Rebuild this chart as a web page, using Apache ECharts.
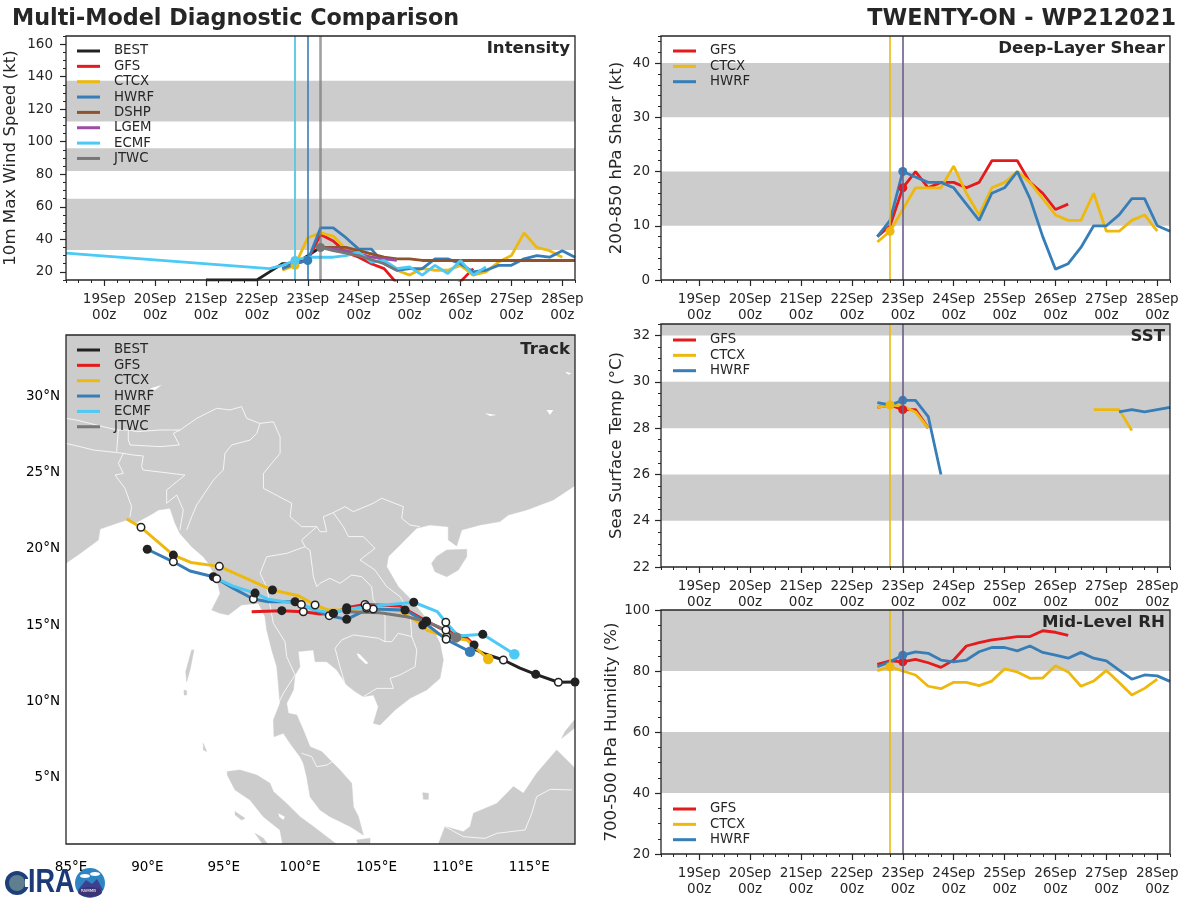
<!DOCTYPE html>
<html>
<head>
<meta charset="utf-8">
<title>Multi-Model Diagnostic Comparison</title>
<script src="https://cdn.jsdelivr.net/npm/echarts@6/dist/echarts.min.js"></script>
<style>
  html, body { margin: 0; padding: 0; background: #fff; }
  #main { width: 1200px; height: 900px; }
</style>
</head>
<body>
<div id="main"></div>
<script>
// tick labels
var dayTicks = [19, 20, 21, 22, 23, 24, 25, 26, 27, 28];
var intensityTicks = [20, 40, 60, 80, 100, 120, 140, 160];
var shearTicks = [0, 10, 20, 30, 40];
var sstTicks = [22, 24, 26, 28, 30, 32];
var rhTicks = [20, 40, 60, 80, 100];
var lonTicks = [85, 90, 95, 100, 105, 110, 115];
var latTicks = [5, 10, 15, 20, 25, 30];

// shaded bands
var intensityBands = [[33.5, 65], [82, 96], [112.5, 137.5]];
var shearBands = [[10, 20], [30, 40]];
var sstBands = [[24, 26], [28, 30], [32, 32.5]];
var rhBands = [[40, 60], [80, 100]];

// intensity (kt), 6 hourly from the start day given beside each
var bestIntensity = [15, 15, 15, 15, 15, 20, 25, 25, 30, 35];            // 21.0
var gfsIntensity = [22, 25, 27, 43, 39, 32, 29, 25, 22, 13, 10, 8, 8, 9, 14, 22]; // 22.5
var ctcxIntensity = [21, 24, 41, 44, 42, 34, 33, 31, 27, 21, 18, 22, 21, 21, 24, 18, 20, 26, 30, 44, 35, 33, 29]; // 22.5
var hwrfIntensity = [22, 25, 27, 47, 47, 41, 34, 34, 25, 21, 22, 22, 28, 28, 25, 20, 21, 24, 24, 28, 30, 29, 33, 29]; // 22.5
var dshpIntensity = [35, 35, 35, 33, 31, 29, 28, 28, 27, 27, 27, 27, 27, 27, 27, 27, 27, 27, 27, 27, 27]; // 23.25
var lgemIntensity = [35, 34, 33, 31, 29, 28, 27];                         // 23.25
var ecmfIntensityTimes = [18.25, 22.25, 22.5, 22.75, 23, 23.25, 23.5, 23.75, 24, 24.25, 24.5, 24.75, 25, 25.25, 25.5, 25.75, 26, 26.25, 26.5];
var ecmfIntensity = [31.5, 22, 24, 27, 29, 29, 29, 30, 32, 26, 27, 22, 23, 18, 24, 19, 27, 18, 23];
var jtwcIntensityTimes = [23.25, 23.5, 24, 24.5, 24.75];
var jtwcIntensity = [35, 33, 30, 25, 21];

// deep-layer shear (kt), from 22.5
var gfsShear = [8, 10, 17, 20, 17, 18, 18, 17, 18, 22, 22, 22, 18, 16, 13, 14];
var ctcxShear = [7, 9, 13, 17, 17, 17, 21, 16, 12, 17, 18, 20, 18, 15, 12, 11, 11, 16, 9, 9, 11, 12, 9];
var hwrfShear = [8, 11, 20, 19, 18, 18, 17, 14, 11, 16, 17, 20, 15, 8, 2, 3, 6, 10, 10, 12, 15, 15, 10, 9];

// sea surface temperature (C), from 22.5, null where the model has no value
var gfsSst = [28.9, 29, 28.8, 28.8, 28];
var ctcxSst = [28.9, 29, 28.95, 28.7, 28, null, null, null, null, null, null, null, null, null, null, null, null, 28.8, 28.8, 28.8, 27.9];
var hwrfSst = [29.1, 29, 29.2, 29.2, 28.5, 26, null, null, null, null, null, null, null, null, null, null, null, null, null, 28.7, 28.8, 28.7, 28.8, 28.9];

// mid-level humidity (%), from 22.5
var gfsRh = [82.2, 83.3, 83, 83.8, 82.7, 81.2, 83.6, 88.2, 89.3, 90.2, 90.7, 91.3, 91.3, 93.2, 92.7, 91.7];
var ctcxRh = [80.1, 81.4, 80, 78.7, 75, 74.2, 76.3, 76.3, 75.2, 76.7, 80.7, 79.7, 77.6, 77.7, 81.7, 79.7, 75, 76.7, 80.2, 76.2, 72.1, 74.3, 77.3];
var hwrfRh = [81.4, 83, 85.2, 86.3, 85.8, 83.6, 83, 83.6, 86.3, 87.7, 87.7, 86.6, 88.2, 86.1, 85.2, 84.2, 86.1, 84.2, 83.3, 80.3, 77.3, 78.7, 78.4, 76.6];

// tracks, [lon, lat]; the Day and Half lists index the points carrying a 24 h / 12 h dot
var bestTrack = [[119, 11.28], [118, 11.28], [116.91, 11.26], [115.43, 11.78], [114.4, 12.19], [113.31, 12.72], [112.11, 13.11], [111.13, 13.57]];
var bestDay = [1, 3], bestHalf = [2, 5];
var gfsTrack = [[96.83, 15.88], [98.8, 15.95], [100.21, 15.88], [101.3, 15.73], [102.17, 15.77], [103.05, 16.14], [104.25, 16.36], [106.54, 16.25], [108.25, 15.27], [109.16, 14.81], [110.93, 14.16], [111.39, 13.7]];
var gfsDay = [1, 4, 5, 8, 11], gfsHalf = [2, 6];
var ctcxTrack = [[88.64, 21.95], [89.58, 21.41], [91.7, 19.59], [92.84, 19.11], [94.71, 18.85], [98.19, 17.3], [99.88, 16.93], [100.98, 16.32], [101.85, 15.99], [103.05, 15.99], [104.36, 16.1], [106.54, 15.95], [108.03, 15.01], [108.29, 14.68], [109.6, 14.24], [110.91, 14.03], [112.32, 12.78]];
var ctcxDay = [2, 5, 9, 12], ctcxHalf = [1, 4, 7, 10, 14];
var hwrfTrack = [[89.99, 19.97], [91.7, 19.15], [92.79, 18.55], [94.32, 18.17], [95.63, 17.41], [96.94, 16.71], [97.92, 16.53], [99.67, 16.53], [100.98, 15.99], [101.91, 15.62], [103.05, 15.38], [103.92, 15.81], [104.79, 16.06], [106.87, 15.99], [107.64, 15.55], [109.56, 14.07], [111.13, 13.26]];
var hwrfDay = [0, 3, 7, 10, 13], hwrfHalf = [1, 5, 9, 12, 15];
var ecmfTrack = [[94.54, 18.04], [95.61, 17.56], [97.05, 17.1], [97.92, 16.69], [100.08, 16.36], [100.98, 15.99], [102.17, 15.77], [103.05, 16.04], [104.36, 16.21], [107.44, 16.5], [108.99, 15.88], [109.54, 15.19], [110.36, 14.29], [111.96, 14.4], [114.03, 13.09]];
var ecmfDay = [2, 6, 9, 13], ecmfHalf = [0, 4, 8, 11];
var jtwcTrack = [[103.05, 15.88], [105.23, 15.81], [106.98, 15.55], [108.29, 15.23], [109.55, 14.68], [110.21, 14.2]];
var jtwcDay = [3], jtwcHalf = [4];

// land outlines, [lon, lat]
var mainland = [[84, 18.5], [84.28, 18.76], [84.67, 19.05], [85.59, 19.7], [86.79, 20.57], [86.9, 21.29], [87.99, 21.67], [88.64, 21.88], [89.3, 21.73], [90.39, 22.32], [90.72, 22.54], [91.48, 22.65], [91.81, 21.67], [92.13, 21.01], [92.9, 20.14], [93.66, 19.48], [93.99, 19.05], [94.54, 18.06], [94.76, 17.08], [94.21, 16], [94.75, 15.78], [95.3, 15.67], [96.17, 16.32], [97.27, 16.43], [97.7, 15.56], [97.81, 14.69], [98.14, 13.38], [98.47, 12.28], [98.57, 11.19], [98.68, 9.88], [98.25, 8.79], [98.29, 7.7], [98.9, 7.92], [99.34, 7.26], [99.99, 6.39], [100.21, 5.95], [100.43, 5.08], [100.65, 3.77], [101.3, 2.9], [101.96, 2.46], [103.27, 1.81], [104.14, 1.26], [103.82, 2.46], [103.49, 3.11], [103.38, 4.64], [102.61, 5.52], [101.96, 6.17], [101.41, 6.72], [100.65, 7.04], [100.21, 8.14], [99.78, 9.12], [99.23, 9.23], [99.12, 9.88], [99.56, 10.76], [99.67, 11.74], [99.99, 12.28], [99.88, 13.27], [100.87, 13.38], [100.98, 12.61], [101.74, 12.61], [102.4, 12.07], [103.05, 11.08], [103.6, 10.65], [104.14, 10.32], [104.8, 10.43], [105.12, 9.66], [104.8, 8.57], [105.23, 8.46], [106.22, 9.45], [107.2, 10.21], [108.29, 10.76], [109.16, 11.52], [109.38, 12.72], [109.16, 13.81], [108.51, 15.12], [107.19, 16.76], [106.43, 17.52], [105.67, 18.83], [105.78, 19.49], [106.54, 20.25], [107.63, 21.34], [108.5, 21.56], [109.7, 21.45], [109.7, 20.58], [110.25, 20.18], [110.58, 21.23], [111.78, 21.56], [113.09, 21.78], [113.63, 22.21], [114.83, 22.54], [116.58, 23.2], [117.89, 24.07], [118.76, 24.72], [119, 24.7], [119, 35], [84, 35]];
var hainan = [[108.61, 19.05], [108.94, 19.49], [109.6, 19.92], [110.91, 19.97], [110.91, 19.49], [110.36, 18.61], [109.6, 18.17], [108.83, 18.5]];
var sumatra = [[95.23, 5.41], [96.06, 5.52], [97.16, 5.19], [98.03, 4.64], [98.25, 4.1], [99.12, 3.33], [99.99, 2.46], [100.87, 1.81], [101.74, 1.15], [102.4, 0.65], [102.4, 0.4], [98.9, 0.4], [98.68, 1.59], [97.59, 2.46], [96.72, 3.55], [95.74, 4.21], [95.23, 5.19]];
var borneo = [[108.95, 0.39], [109.49, 1.81], [110.69, 1.48], [111.13, 1.81], [111.35, 2.68], [112.88, 3.33], [113.97, 4.43], [114.62, 3.99], [115.49, 5.3], [116.8, 6.83], [118.11, 5.52], [118.55, 5.5], [118.55, 0.39]];
var palawan = [[117.13, 7.59], [117.35, 8.03], [118.22, 9.12], [118.22, 8.46]];
var andaman = [[92.9, 13.38], [93.05, 13.38], [92.79, 12.07], [92.57, 11.3], [92.51, 11.96]];
var littleAndaman = [[92.4, 10.76], [92.57, 10.71], [92.57, 10.43], [92.4, 10.43]];
var nicobar = [[93.66, 7.26], [93.88, 6.72], [93.66, 6.83]];
var nias = [[95.74, 2.79], [96.39, 2.35], [96.17, 2.24], [95.74, 2.57]];
var siberut = [[97.05, 1.37], [97.59, 1.04], [97.92, 0.6], [97.59, 0.6]];
var natuna = [[108.03, 4.03], [108.4, 3.99], [108.4, 3.6], [108.07, 3.6]];
var lingga = [[103.7, 0.93], [104.58, 1.04], [104.58, 0.71], [103.82, 0.6]];
var landPolys = [mainland, hainan, sumatra, borneo, palawan, andaman, littleAndaman, nicobar, nias, siberut, natuna, lingga];

// lakes punched out of the land
var tonleSap = [[103.7, 13.16], [103.9, 13.1], [104.47, 12.5], [104.3, 12.45], [103.82, 12.9]];
var toba = [[98.57, 2.68], [99, 2.46], [98.9, 2.24], [98.64, 2.46]];
var tibetLake = [[90.17, 30.5], [90.94, 30.73], [90.5, 30.4]];
var poyang = [[116.14, 29.09], [116.58, 29.09], [116.36, 28.76]];
var chaohu = [[117.35, 31.6], [117.78, 31.5], [117.56, 31.4]];
var dongting = [[112.1, 28.87], [112.87, 28.76], [112.43, 28.7]];
var lakePolys = [tonleSap, toba, tibetLake, poyang, chaohu, dongting];

// country borders
var borderLines = [
  [[84.67, 28.54], [85.37, 28.43], [86.24, 28.21], [87.55, 27.89], [88.1, 27.78], [88.75, 27.78], [89.3, 27.67], [90.83, 27.78], [92.14, 27.78], [93.23, 28.54], [94.54, 29.2], [95.41, 29.09], [96.17, 29.31], [96.5, 28.54], [97.37, 28.21]],
  [[84.67, 26.9], [85.59, 26.69], [86.46, 26.47], [88.1, 26.29], [88.42, 26.25], [89.08, 26.14], [89.73, 26.08], [89.62, 25.38], [89.73, 25.16], [92.46, 24.83], [91.26, 23.85], [91.26, 22.98], [91.92, 23.52], [92.35, 22.54], [92.13, 21.23]],
  [[88.1, 27.78], [87.99, 26.36]],
  [[88.75, 27.78], [88.75, 27.12], [88.86, 26.8], [90.83, 26.69], [92.09, 26.8], [91.7, 27.56], [92.14, 27.78]],
  [[97.37, 28.21], [97.16, 27.56], [96.72, 27.12], [95.52, 26.8], [95.08, 26.25], [94.97, 25.16], [94.32, 24.5], [93.23, 22.87], [92.9, 22.1], [92.57, 21.23]],
  [[88.42, 26.25], [88.1, 25.6], [88.42, 24.94], [87.88, 24.83], [88.53, 23.96], [88.97, 22.76], [88.86, 22.1]],
  [[97.37, 28.21], [98.25, 28.32], [98.69, 27.34], [98.69, 26.25], [97.6, 24.94], [97.6, 23.96], [99.45, 22.98], [99.34, 22.1], [100.1, 21.45], [101.09, 21.45], [101.3, 21.12], [101.74, 21.12], [101.52, 22.1], [102.17, 22.37], [102.94, 22.76], [103.48, 22.43], [104.79, 22.98], [105.34, 23.31], [106.76, 22.76], [106.65, 22], [107.19, 21.56], [107.85, 21.45]],
  [[101.09, 21.45], [100.1, 20.57], [100.32, 20.14], [99.12, 19.7], [97.81, 19.48], [97.38, 18.39], [97.81, 17.5], [98.25, 15.12], [99.01, 13.92], [99.12, 12.94], [99.67, 11.74], [98.9, 10.54], [98.58, 9.88]],
  [[100.32, 20.14], [100.65, 19.9], [100.87, 18.17], [101.09, 17.52], [101.3, 17.74], [101.95, 18.07], [102.61, 17.74], [103.37, 18.28], [104.03, 18.18], [104.68, 17.52], [104.79, 16.65], [105.56, 15.56], [105.56, 13.92]],
  [[102.17, 22.37], [102.83, 21.45], [103.16, 20.8], [104.14, 20.8], [104.9, 20.03], [103.92, 19.27], [104.9, 18.61], [105.67, 17.52], [106.54, 16.87], [107.2, 15.8], [107.31, 14.25]],
  [[102.9, 11.3], [102.6, 12.3], [102.29, 13.48], [102.72, 14.03], [103.49, 14.36], [105.13, 14.14], [105.56, 13.92], [106, 13.92], [106.43, 14.47], [107.31, 14.25], [107.64, 13.38], [107.53, 12.28], [106.54, 11.74], [105.89, 11.52], [106.11, 10.86], [105.02, 10.86], [104.14, 10.32]],
  [[100.1, 6.61], [100.76, 6.39], [101.09, 5.73], [101.74, 5.84], [102.11, 6.06]],
  [[109.49, 1.81], [110.69, 1.15], [112.11, 1.04], [112.88, 1.37], [114.73, 1.59], [115.17, 2.68], [115.49, 3.77], [116.37, 4.25], [117.79, 4.21]]
];

var colors = {
  BEST: '#222222', GFS: '#e41a1c', CTCX: '#eeb90f', HWRF: '#377eb8',
  DSHP: '#91522b', LGEM: '#984ea3', ECMF: '#4dc9f6', JTWC: '#777777'
};
var inkColor = '#262626';
var fontName = '"DejaVu Sans"';

var grids = [], xAxes = [], yAxes = [], series = [], legends = [], titles = [];

function timePanel(rect, yMin, yMax, yTicks, yMinorStep, yName, bands, label, legendNames, legendPos) {
  var g = grids.length;
  var isLeft = rect[0] < 300;
  grids.push({ left: rect[0], top: rect[1], width: rect[2], height: rect[3], show: true, z: 6,
    backgroundColor: 'transparent', borderColor: inkColor, borderWidth: 1.3 });
  var xi = xAxes.length, yi = yAxes.length;
  xAxes.push({
    type: 'value', gridIndex: g, min: 18.25, max: 28.25, position: 'bottom',
    splitLine: { show: false }, axisLine: { show: false },
    axisTick: { length: 6, customValues: dayTicks, lineStyle: { color: inkColor, width: 1.2 } },
    axisLabel: { customValues: dayTicks, color: inkColor, fontSize: 13.5, fontFamily: fontName, lineHeight: 16, margin: 11,
      formatter: function (v) { return v + 'Sep\n00z'; } }
  });
  xAxes.push({
    type: 'value', gridIndex: g, min: 18.25, max: 28.25, interval: 0.25, position: 'bottom',
    splitLine: { show: false }, axisLine: { show: false }, axisLabel: { show: false },
    axisTick: { length: 3, lineStyle: { color: inkColor, width: 1 } }
  });
  yAxes.push({
    type: 'value', gridIndex: g, min: yMin, max: yMax, position: 'left',
    name: yName, nameLocation: 'middle', nameGap: isLeft ? 47 : 36, nameRotate: 90,
    nameTextStyle: { color: inkColor, fontSize: 16.6, fontFamily: fontName },
    splitLine: { show: false }, axisLine: { show: false },
    axisTick: { length: 6, customValues: yTicks, lineStyle: { color: inkColor, width: 1.2 } },
    axisLabel: { customValues: yTicks, color: inkColor, fontSize: 13.5, fontFamily: fontName, margin: isLeft ? 13 : 11 }
  });
  yAxes.push({
    type: 'value', gridIndex: g, min: yMin, max: yMax, interval: yMinorStep, position: 'left',
    splitLine: { show: false }, axisLine: { show: false }, axisLabel: { show: false },
    axisTick: { length: 3, lineStyle: { color: inkColor, width: 1 } }
  });
  series.push({
    type: 'line', xAxisIndex: xi, yAxisIndex: yi, data: [], silent: true, z: 1,
    markArea: { silent: true, itemStyle: { color: '#cccccc', opacity: 1 },
      data: bands.map(function (b) { return [{ yAxis: b[0] }, { yAxis: b[1] }]; }) }
  });
  addLabel(rect, label, 4);
  addLegend(legendNames, legendPos);
  return { x: xi, y: yi };
}

function addLabel(rect, text, yOffset) {
  titles.push({ text: text, right: 1200 - rect[0] - rect[2] + 5, top: rect[1] + yOffset, padding: 0,
    textStyle: { color: inkColor, fontSize: 16.6, fontWeight: 'bold', fontFamily: fontName } });
}

function addLegend(names, pos) {
  legends.push({ data: names, left: pos[0], top: pos[1], orient: 'vertical', padding: 0, itemGap: 1.35,
    icon: 'rect', itemWidth: 23, itemHeight: 3, selectedMode: false,
    textStyle: { color: inkColor, fontSize: 13.3, fontFamily: fontName, padding: [0, 0, 0, 9], lineHeight: 14 } });
}

// pair up 6 hourly values with their times
function sixHourly(start, values) {
  return values.map(function (v, i) { return [start + i * 0.25, v]; });
}
function timed(times, values) {
  return values.map(function (v, i) { return [times[i], v]; });
}

function modelLine(axes, name, points, initTime, initWidth, initOpacity) {
  var c = colors[name];
  series.push({
    type: 'line', name: name, xAxisIndex: axes.x, yAxisIndex: axes.y, data: points, symbol: 'none',
    connectNulls: false, silent: true, z: 3,
    itemStyle: { color: c }, lineStyle: { color: c, width: 2.8 },
    markLine: initTime === undefined ? undefined : {
      silent: true, symbol: 'none', label: { show: false },
      lineStyle: { color: c, width: initWidth || 1.6, type: 'solid', opacity: initOpacity || 0.7 },
      data: [{ xAxis: initTime }]
    }
  });
  if (initTime !== undefined) {
    var hit = points.filter(function (p) { return p[0] === initTime; });
    series.push({
      type: 'scatter', xAxisIndex: axes.x, yAxisIndex: axes.y, data: hit, silent: true, z: 4,
      symbolSize: 9, itemStyle: { color: c, opacity: 1 }
    });
  }
}

// ---- Intensity
var p1 = timePanel([66, 36, 509, 244], 15, 165, intensityTicks, 5, '10m Max Wind Speed (kt)', intensityBands, 'Intensity',
  ['BEST', 'GFS', 'CTCX', 'HWRF', 'DSHP', 'LGEM', 'ECMF', 'JTWC'], [77, 44]);
modelLine(p1, 'BEST', sixHourly(21, bestIntensity));
modelLine(p1, 'GFS', sixHourly(22.5, gfsIntensity));
modelLine(p1, 'CTCX', sixHourly(22.5, ctcxIntensity), 22.75);
modelLine(p1, 'HWRF', sixHourly(22.5, hwrfIntensity), 23, 1.6, 1);
modelLine(p1, 'DSHP', sixHourly(23.25, dshpIntensity));
modelLine(p1, 'LGEM', sixHourly(23.25, lgemIntensity));
modelLine(p1, 'ECMF', timed(ecmfIntensityTimes, ecmfIntensity), 22.75, 1.8, 0.95);
modelLine(p1, 'JTWC', timed(jtwcIntensityTimes, jtwcIntensity), 23.25, 2.6);

// ---- Deep-layer shear
var p2 = timePanel([661, 36, 509, 244], 0, 45, shearTicks, 2, '200-850 hPa Shear (kt)', shearBands, 'Deep-Layer Shear',
  ['GFS', 'CTCX', 'HWRF'], [673, 44]);
modelLine(p2, 'GFS', sixHourly(22.5, gfsShear), 23);
modelLine(p2, 'CTCX', sixHourly(22.5, ctcxShear), 22.75, 1.6, 1);
modelLine(p2, 'HWRF', sixHourly(22.5, hwrfShear), 23);

// ---- SST
var p3 = timePanel([661, 324, 509, 243], 22, 32.5, sstTicks, 0.5, 'Sea Surface Temp (\u00b0C)', sstBands, 'SST',
  ['GFS', 'CTCX', 'HWRF'], [673, 333]);
modelLine(p3, 'GFS', sixHourly(22.5, gfsSst), 23);
modelLine(p3, 'CTCX', sixHourly(22.5, ctcxSst), 22.75, 1.6, 1);
modelLine(p3, 'HWRF', sixHourly(22.5, hwrfSst), 23);

// ---- Mid-level RH
var p4 = timePanel([661, 610, 509, 244], 20, 100, rhTicks, 5, '700-500 hPa Humidity (%)', rhBands, 'Mid-Level RH',
  ['GFS', 'CTCX', 'HWRF'], [673, 802]);
modelLine(p4, 'GFS', sixHourly(22.5, gfsRh), 23);
modelLine(p4, 'CTCX', sixHourly(22.5, ctcxRh), 22.75, 1.6, 1);
modelLine(p4, 'HWRF', sixHourly(22.5, hwrfRh), 23);

// ---- Track map
var trackRect = [66, 335, 509, 509];
var trackGrid = grids.length;
grids.push({ left: trackRect[0], top: trackRect[1], width: trackRect[2], height: trackRect[3], show: true, z: 6,
  backgroundColor: 'transparent', borderColor: inkColor, borderWidth: 1.3 });
var tx = xAxes.length, ty = yAxes.length;
xAxes.push({ type: 'value', gridIndex: trackGrid, min: 84.67, max: 118, position: 'bottom',
  splitLine: { show: false }, axisLine: { show: false }, axisTick: { show: false },
  axisLabel: { customValues: lonTicks, color: '#000', fontSize: 13.5, fontFamily: fontName, margin: 16,
    formatter: function (v) { return v + '\u00b0E'; } } });
yAxes.push({ type: 'value', gridIndex: trackGrid, min: 0.67, max: 34, position: 'left',
  splitLine: { show: false }, axisLine: { show: false }, axisTick: { show: false },
  axisLabel: { customValues: latTicks, color: '#000', fontSize: 13.5, fontFamily: fontName, margin: 6,
    formatter: function (v) { return v + '\u00b0N'; } } });

function mapShapes(list, build) {
  series.push({
    type: 'custom', xAxisIndex: tx, yAxisIndex: ty, coordinateSystem: 'cartesian2d', clip: true, silent: true, z: 1,
    data: list.map(function (p, i) { return [i]; }),
    encode: { x: [], y: [] },
    renderItem: function (params, api) {
      var pts = list[params.dataIndex].map(function (p) { return api.coord(p); });
      return build(pts);
    }
  });
}
mapShapes(landPolys, function (pts) {
  return { type: 'polygon', shape: { points: pts }, style: { fill: '#cccccc', stroke: '#cccccc', lineWidth: 0.5 } };
});
mapShapes(lakePolys, function (pts) {
  return { type: 'polygon', shape: { points: pts }, style: { fill: '#ffffff' } };
});
mapShapes(borderLines, function (pts) {
  return { type: 'polyline', shape: { points: pts }, style: { fill: 'none', stroke: '#ffffff', lineWidth: 0.8 } };
});

function trackLine(name, track, day, half, hasInit) {
  var c = colors[name];
  series.push({
    type: 'line', name: name, xAxisIndex: tx, yAxisIndex: ty, data: track, symbol: 'none', silent: true, z: 3,
    itemStyle: { color: c }, lineStyle: { color: c, width: 3 }
  });
  series.push({
    type: 'scatter', xAxisIndex: tx, yAxisIndex: ty, silent: true, z: 4, symbolSize: 9,
    data: day.map(function (i) { return track[i]; }), itemStyle: { color: '#222222', opacity: 1 }
  });
  series.push({
    type: 'scatter', xAxisIndex: tx, yAxisIndex: ty, silent: true, z: 4, symbolSize: 7.5,
    data: half.map(function (i) { return track[i]; }),
    itemStyle: { color: '#ffffff', borderColor: '#222222', borderWidth: 1.5, opacity: 1 }
  });
  if (hasInit) {
    series.push({
      type: 'scatter', xAxisIndex: tx, yAxisIndex: ty, silent: true, z: 5, symbolSize: 10.5,
      data: [track[track.length - 1]], itemStyle: { color: c, opacity: 1 }
    });
  }
}
trackLine('BEST', bestTrack, bestDay, bestHalf, false);
trackLine('GFS', gfsTrack, gfsDay, gfsHalf, false);
trackLine('CTCX', ctcxTrack, ctcxDay, ctcxHalf, true);
trackLine('HWRF', hwrfTrack, hwrfDay, hwrfHalf, true);
trackLine('ECMF', ecmfTrack, ecmfDay, ecmfHalf, true);
trackLine('JTWC', jtwcTrack, jtwcDay, jtwcHalf, true);
addLabel(trackRect, 'Track', 6);
addLegend(['BEST', 'GFS', 'CTCX', 'HWRF', 'ECMF', 'JTWC'], [77, 343]);

// big headings
titles.push({ text: 'Multi-Model Diagnostic Comparison', left: 12, top: 8, padding: 0,
  textStyle: { color: inkColor, fontSize: 22.3, fontWeight: 'bold', fontFamily: fontName } });
titles.push({ text: 'TWENTY-ON - WP212021', right: 24, top: 8, padding: 0,
  textStyle: { color: inkColor, fontSize: 22.4, fontWeight: 'bold', fontFamily: fontName } });

var chart = echarts.init(document.getElementById('main'), null, { renderer: 'canvas' });
chart.setOption({
  animation: false,
  backgroundColor: '#ffffff',
  title: titles,
  legend: legends,
  grid: grids,
  xAxis: xAxes,
  yAxis: yAxes,
  series: series,
  // CIRA / RAMMB logo, bottom left corner
  graphic: [
    { type: 'circle', shape: { cx: 17, cy: 883, r: 12 }, style: { fill: '#1e3f7a' }, z: 20 },
    { type: 'circle', shape: { cx: 17, cy: 883, r: 8 }, style: { fill: '#5f7f8f' }, z: 21 },
    { type: 'rect', shape: { x: 25, y: 879, width: 5, height: 8 }, style: { fill: '#ffffff' }, z: 21 },
    { type: 'text', left: 28, top: 866, z: 21, scaleX: 0.82, style: { text: 'IRA', fill: '#1d3a78', font: 'bold 33px "Liberation Sans"' } },
    { type: 'circle', shape: { cx: 90, cy: 883, r: 15 }, style: { fill: '#2f84c4' }, z: 22 },
    { type: 'polygon', shape: { points: [[78, 890], [86, 880], [92, 884], [97, 879], [103, 890]] }, style: { fill: '#3d3f8f' }, z: 23 },
    { type: 'ellipse', shape: { cx: 85, cy: 876, rx: 5, ry: 2 }, style: { fill: '#ffffff' }, z: 23 },
    { type: 'ellipse', shape: { cx: 95, cy: 874, rx: 5, ry: 2 }, style: { fill: '#ffffff' }, z: 23 },
    { type: 'ellipse', shape: { cx: 90, cy: 892, rx: 12, ry: 5 }, style: { fill: '#3a3577' }, z: 23 },
    { type: 'text', left: 81, top: 889, z: 24, style: { text: 'RAMMB', fill: '#ffffff', font: '4px "DejaVu Sans"' } }
  ]
});
</script>
</body>
</html>
